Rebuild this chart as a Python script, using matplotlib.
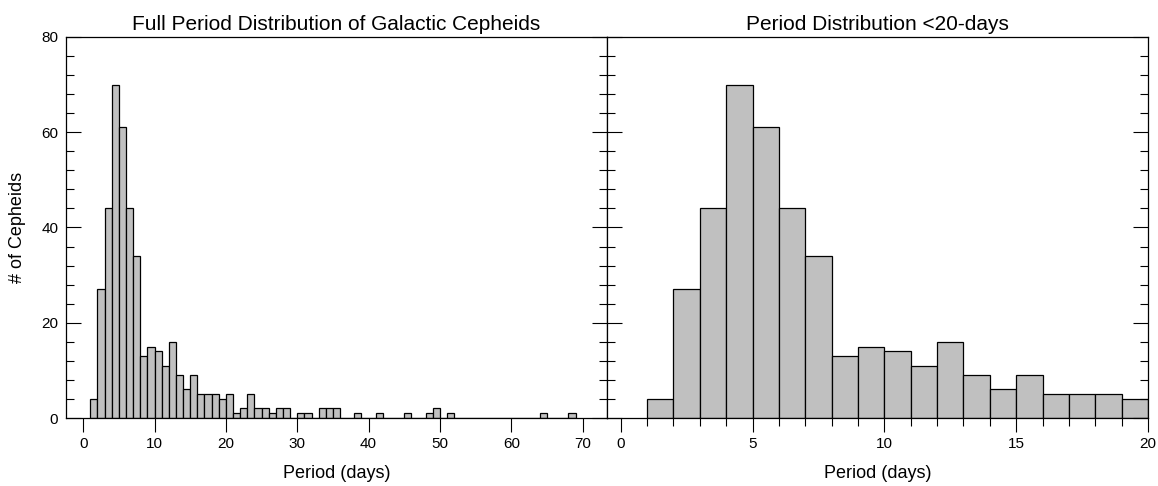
import numpy as np
import matplotlib
matplotlib.use("Agg")
import matplotlib.pyplot as plt
from matplotlib.ticker import MultipleLocator

plt.rcParams['font.family'] = ['Liberation Sans', 'DejaVu Sans']

# Histogram of Cepheid periods, 1-day bins (left edge of each bin)
bin_left = np.arange(1, 69)
counts = [4, 27, 44, 70, 61, 44, 34, 13, 15, 14,
          11, 16, 9, 6, 9, 5, 5, 5, 4, 5,
          1, 2, 5, 2, 2, 1, 2, 2, 0, 1,
          1, 0, 2, 2, 2, 0, 0, 1, 0, 0,
          1, 0, 0, 0, 1, 0, 0, 1, 2, 0,
          1, 0, 0, 0, 0, 0, 0, 0, 0, 0,
          0, 0, 0, 1, 0, 0, 0, 1]
counts = np.array(counts)

titles = ["Full Period Distribution of Galactic Cepheids", "Period Distribution <20-days"]
xlabel = "Period (days)"
ylabel = "# of Cepheids"

bar_face = "#c0c0c0"

fig = plt.figure(figsize=(11.58, 4.86), dpi=100)
ax1 = fig.add_axes([66/1158, 68/486, 541/1158, 381/486])
ax2 = fig.add_axes([607/1158, 68/486, 541/1158, 381/486])

# full range
ax1.bar(bin_left, counts, width=1, align='edge', color=bar_face,
        edgecolor='black', linewidth=0.9)
ax1.set_xlim(-2.4, 73.4)
ax1.set_ylim(0, 80)
ax1.xaxis.set_major_locator(MultipleLocator(10))
ax1.yaxis.set_major_locator(MultipleLocator(20))
ax1.yaxis.set_minor_locator(MultipleLocator(4))
ax1.tick_params(axis='y', which='both', direction='in', left=True, right=True)
ax1.tick_params(axis='y', which='major', length=11, pad=5.5)
ax1.tick_params(axis='y', which='minor', length=6)
ax1.tick_params(axis='x', which='major', direction='out', length=10, top=False)
ax1.set_ylabel(ylabel, fontsize=13)
ax1.yaxis.set_label_coords(-0.074, 0.5)

# < 20 days
short = bin_left < 20
ax2.bar(bin_left[short], counts[short], width=1, align='edge', color=bar_face,
        edgecolor='black', linewidth=0.9)
ax2.set_xlim(-0.52, 20)
ax2.set_ylim(0, 80)
ax2.xaxis.set_major_locator(MultipleLocator(5))
ax2.xaxis.set_minor_locator(MultipleLocator(1))
ax2.yaxis.set_major_locator(MultipleLocator(20))
ax2.yaxis.set_minor_locator(MultipleLocator(4))
ax2.tick_params(axis='y', which='both', direction='in', left=True, right=True,
                labelleft=False)
ax2.tick_params(axis='y', which='major', length=11)
ax2.tick_params(axis='y', which='minor', length=6)
ax2.tick_params(axis='x', which='major', direction='out', length=10)
ax2.tick_params(axis='x', which='minor', direction='out', length=6)

for ax, t in zip([ax1, ax2], titles):
    ax.set_title(t, fontsize=15, pad=5)
    ax.set_xlabel(xlabel, fontsize=13)
    ax.xaxis.set_label_coords(0.5, -0.123)
    ax.tick_params(labelsize=11, width=0.8)
    ax.tick_params(axis='x', pad=4)
    ax.tick_params(which='minor', width=0.8)
    for s in ax.spines.values():
        s.set_linewidth(0.9)

fig.savefig("out.png", dpi=100)
